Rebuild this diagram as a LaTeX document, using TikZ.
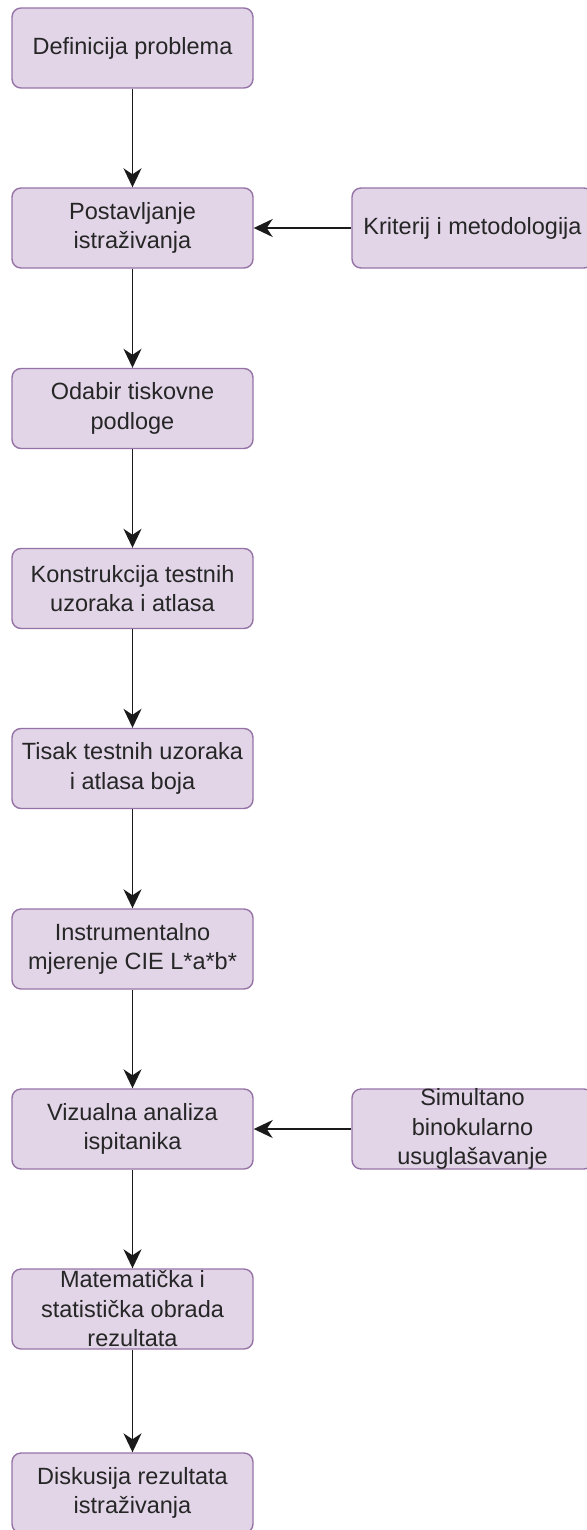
\documentclass[tikz,border=0pt]{standalone}
\usepackage{fontspec}
\setmainfont{Liberation Sans}
\usetikzlibrary{arrows.meta}
\definecolor{boxfill}{HTML}{E1D5E7}
\definecolor{boxline}{HTML}{9673A6}
\definecolor{txtcol}{HTML}{262626}
\definecolor{arrcol}{HTML}{1A1A1A}
\tikzset{
  flowbox/.style={draw=boxline, fill=boxfill, line width=1.4pt, rounded corners=9pt,
    minimum width=241pt, minimum height=80pt, inner sep=0pt, anchor=center},
  flowtext/.style={text=txtcol, align=center, inner sep=0pt, anchor=center,
    font=\fontsize{23.5}{29.5}\selectfont},
  flowarrow/.style={draw=arrcol, line width=1.8pt,
    -{Stealth[length=19pt,width=18pt,inset=6pt]}}
}
\begin{document}
\begin{tikzpicture}[x=1pt,y=-1pt]
\useasboundingbox (0,0) rectangle (586,1530);
% boxes
\node[flowbox] (b1) at (132.5,48) {};
\node[flowbox] (b2) at (132.5,228) {};
\node[flowbox] (b3) at (132.5,408.5) {};
\node[flowbox] (b4) at (132.5,588.5) {};
\node[flowbox] (b5) at (132.5,768.5) {};
\node[flowbox] (b6) at (132.5,949) {};
\node[flowbox] (b7) at (132.5,1129) {};
\node[flowbox] (b8) at (132.5,1309) {};
\node[flowbox] (b9) at (132.5,1493) {};
\node[flowbox] (r1) at (472.5,228) {};
\node[flowbox] (r2) at (472.5,1129) {};
% texts
\node[flowtext] (t1) at (b1.center) {Definicija problema};
\node[flowtext] (t2) at (b2.center) {Postavljanje\\istraživanja};
\node[flowtext] (t3) at (b3.center) {Odabir tiskovne\\podloge};
\node[flowtext] (t4) at (b4.center) {Konstrukcija testnih\\uzoraka i atlasa};
\node[flowtext] (t5) at (b5.center) {Tisak testnih uzoraka\\i atlasa boja};
\node[flowtext] (t6) at (b6.center) {Instrumentalno\\mjerenje CIE L*a*b*};
\node[flowtext] (t7) at (b7.center) {Vizualna analiza\\ispitanika};
\node[flowtext] (t8) at (b8.center) {Matematička i\\statistička obrada\\rezultata};
\node[flowtext] (t9) at (b9.center) {Diskusija rezultata\\istraživanja};
\node[flowtext] (tr1) at (r1.center) {Kriterij i metodologija};
\node[flowtext] (tr2) at (r2.center) {Simultano\\binokularno\\usuglašavanje};
% arrows
\draw[flowarrow] (b1.south) -- (b2.north);
\draw[flowarrow] (b2.south) -- (b3.north);
\draw[flowarrow] (b3.south) -- (b4.north);
\draw[flowarrow] (b4.south) -- (b5.north);
\draw[flowarrow] (b5.south) -- (b6.north);
\draw[flowarrow] (b6.south) -- (b7.north);
\draw[flowarrow] (b7.south) -- (b8.north);
\draw[flowarrow] (b8.south) -- (b9.north);
\draw[flowarrow] (r1.west) -- (b2.east);
\draw[flowarrow] (r2.west) -- (b7.east);
\end{tikzpicture}
\end{document}
